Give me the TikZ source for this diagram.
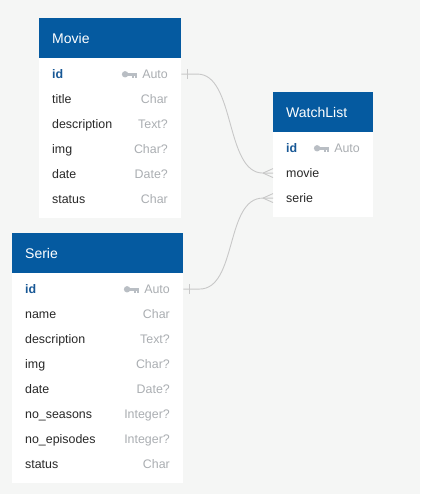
\documentclass[tikz,border=0pt]{standalone}
\usepackage{fontspec}
\setmainfont{Liberation Sans}
\definecolor{bg}{RGB}{245,246,245}
\definecolor{head}{RGB}{5,90,160}
\definecolor{pk}{RGB}{24,88,150}
\definecolor{fld}{RGB}{40,40,40}
\definecolor{typ}{RGB}{170,174,178}
\definecolor{keyc}{RGB}{185,190,196}
\definecolor{wire}{RGB}{200,200,200}

\tikzset{
	thead/.style={fill=head, text=white, font=\fontsize{14}{16}\selectfont, anchor=north west,
		minimum height=40pt, inner xsep=13pt, inner ysep=0pt, align=left, text height=10pt, text depth=0pt},
	tbody/.style={fill=white, anchor=north west, inner sep=0pt},
	fname/.style={anchor=base west, inner sep=0pt, text=fld, font=\fontsize{12.4}{14}\selectfont},
	ftype/.style={anchor=base east, inner sep=0pt, text=typ, font=\fontsize{12.4}{14}\selectfont},
	pkey/.style={fname, text=pk, font=\fontsize{12.4}{14}\selectfont\bfseries},
	link/.style={draw=wire, line width=0.9pt},
	keyicon/.pic={
		\fill (3,0) circle (3.2pt);
		\fill (5,-1.6) rectangle (15,1.4);
		\fill (10,0) rectangle (12,3.4);
		\fill (13,0) rectangle (15,3.4);
	}
}

\begin{document}
\begin{tikzpicture}[x=1pt,y=-1pt]
	\fill[bg] (0,0) rectangle (420,494);
	\useasboundingbox (0,0) rectangle (420,494);
	% Movie
	\node[tbody, minimum width=142pt, minimum height=160pt] (movie) at (39,58) {};
	\node[thead, text width=116pt] (movie-h) at (39,18) {Movie};
	\node[pkey] (movie-1) at (52,78.5) {id};
	\node[ftype] (movie-1-t) at (168,78.5) {Auto};
	\pic[fill=keyc] at ([xshift=-20pt]movie-1-t.west) {keyicon};
	\foreach \F/\T [count=\Z from 2] in {title/Char, description/Text?, img/Char?,
		date/Date?, status/Char}
	{\node[fname] (movie-\Z) at (52,53.5+25*\Z) {\F};
	 \node[ftype] (movie-\Z-t) at (168,53.5+25*\Z) {\T};}
	% Serie
	\node[tbody, minimum width=171pt, minimum height=210pt] (serie) at (12,273) {};
	\node[thead, text width=145pt] (serie-h) at (12,233) {Serie};
	\node[pkey] (serie-1) at (25,293.5) {id};
	\node[ftype] (serie-1-t) at (170,293.5) {Auto};
	\pic[fill=keyc] at ([xshift=-20pt]serie-1-t.west) {keyicon};
	\foreach \F/\T [count=\Z from 2] in {name/Char, description/Text?, img/Char?,
		date/Date?, no\_seasons/Integer?, no\_episodes/Integer?, status/Char}
	{\node[fname] (serie-\Z) at (25,268.5+25*\Z) {\F};
	 \node[ftype] (serie-\Z-t) at (170,268.5+25*\Z) {\T};}
	% WatchList
	\node[tbody, minimum width=100pt, minimum height=85pt] (watch) at (273,132) {};
	\node[thead, text width=74pt] (watch-h) at (273,92) {WatchList};
	\node[pkey] (watch-1) at (286,152.5) {id};
	\node[ftype] (watch-1-t) at (360,152.5) {Auto};
	\pic[fill=keyc] at ([xshift=-20pt]watch-1-t.west) {keyicon};
	\foreach \F [count=\Z from 2] in {movie, serie}
	{\node[fname] (watch-\Z) at (286,127.5+25*\Z) {\F};}
	% links
	\foreach \T/\B in {movie/2, serie/3}
	{
		\coordinate (a) at (\T.east |- \T-1);
		\coordinate (b) at (watch.west |- watch-\B);
		\draw[link] (a) -- ++(16,0) .. controls +(38,0) and +(-38,0) .. ([xshift=-10pt]b) -- (b);
		\draw[link] ([xshift=6pt]a) ++(0,-5) -- ++(0,10);
		\draw[link] ([xshift=-10pt]b) -- ++(10,-4.5) ([xshift=-10pt]b) -- ++(10,4.5);
	}
\end{tikzpicture}
\end{document}
